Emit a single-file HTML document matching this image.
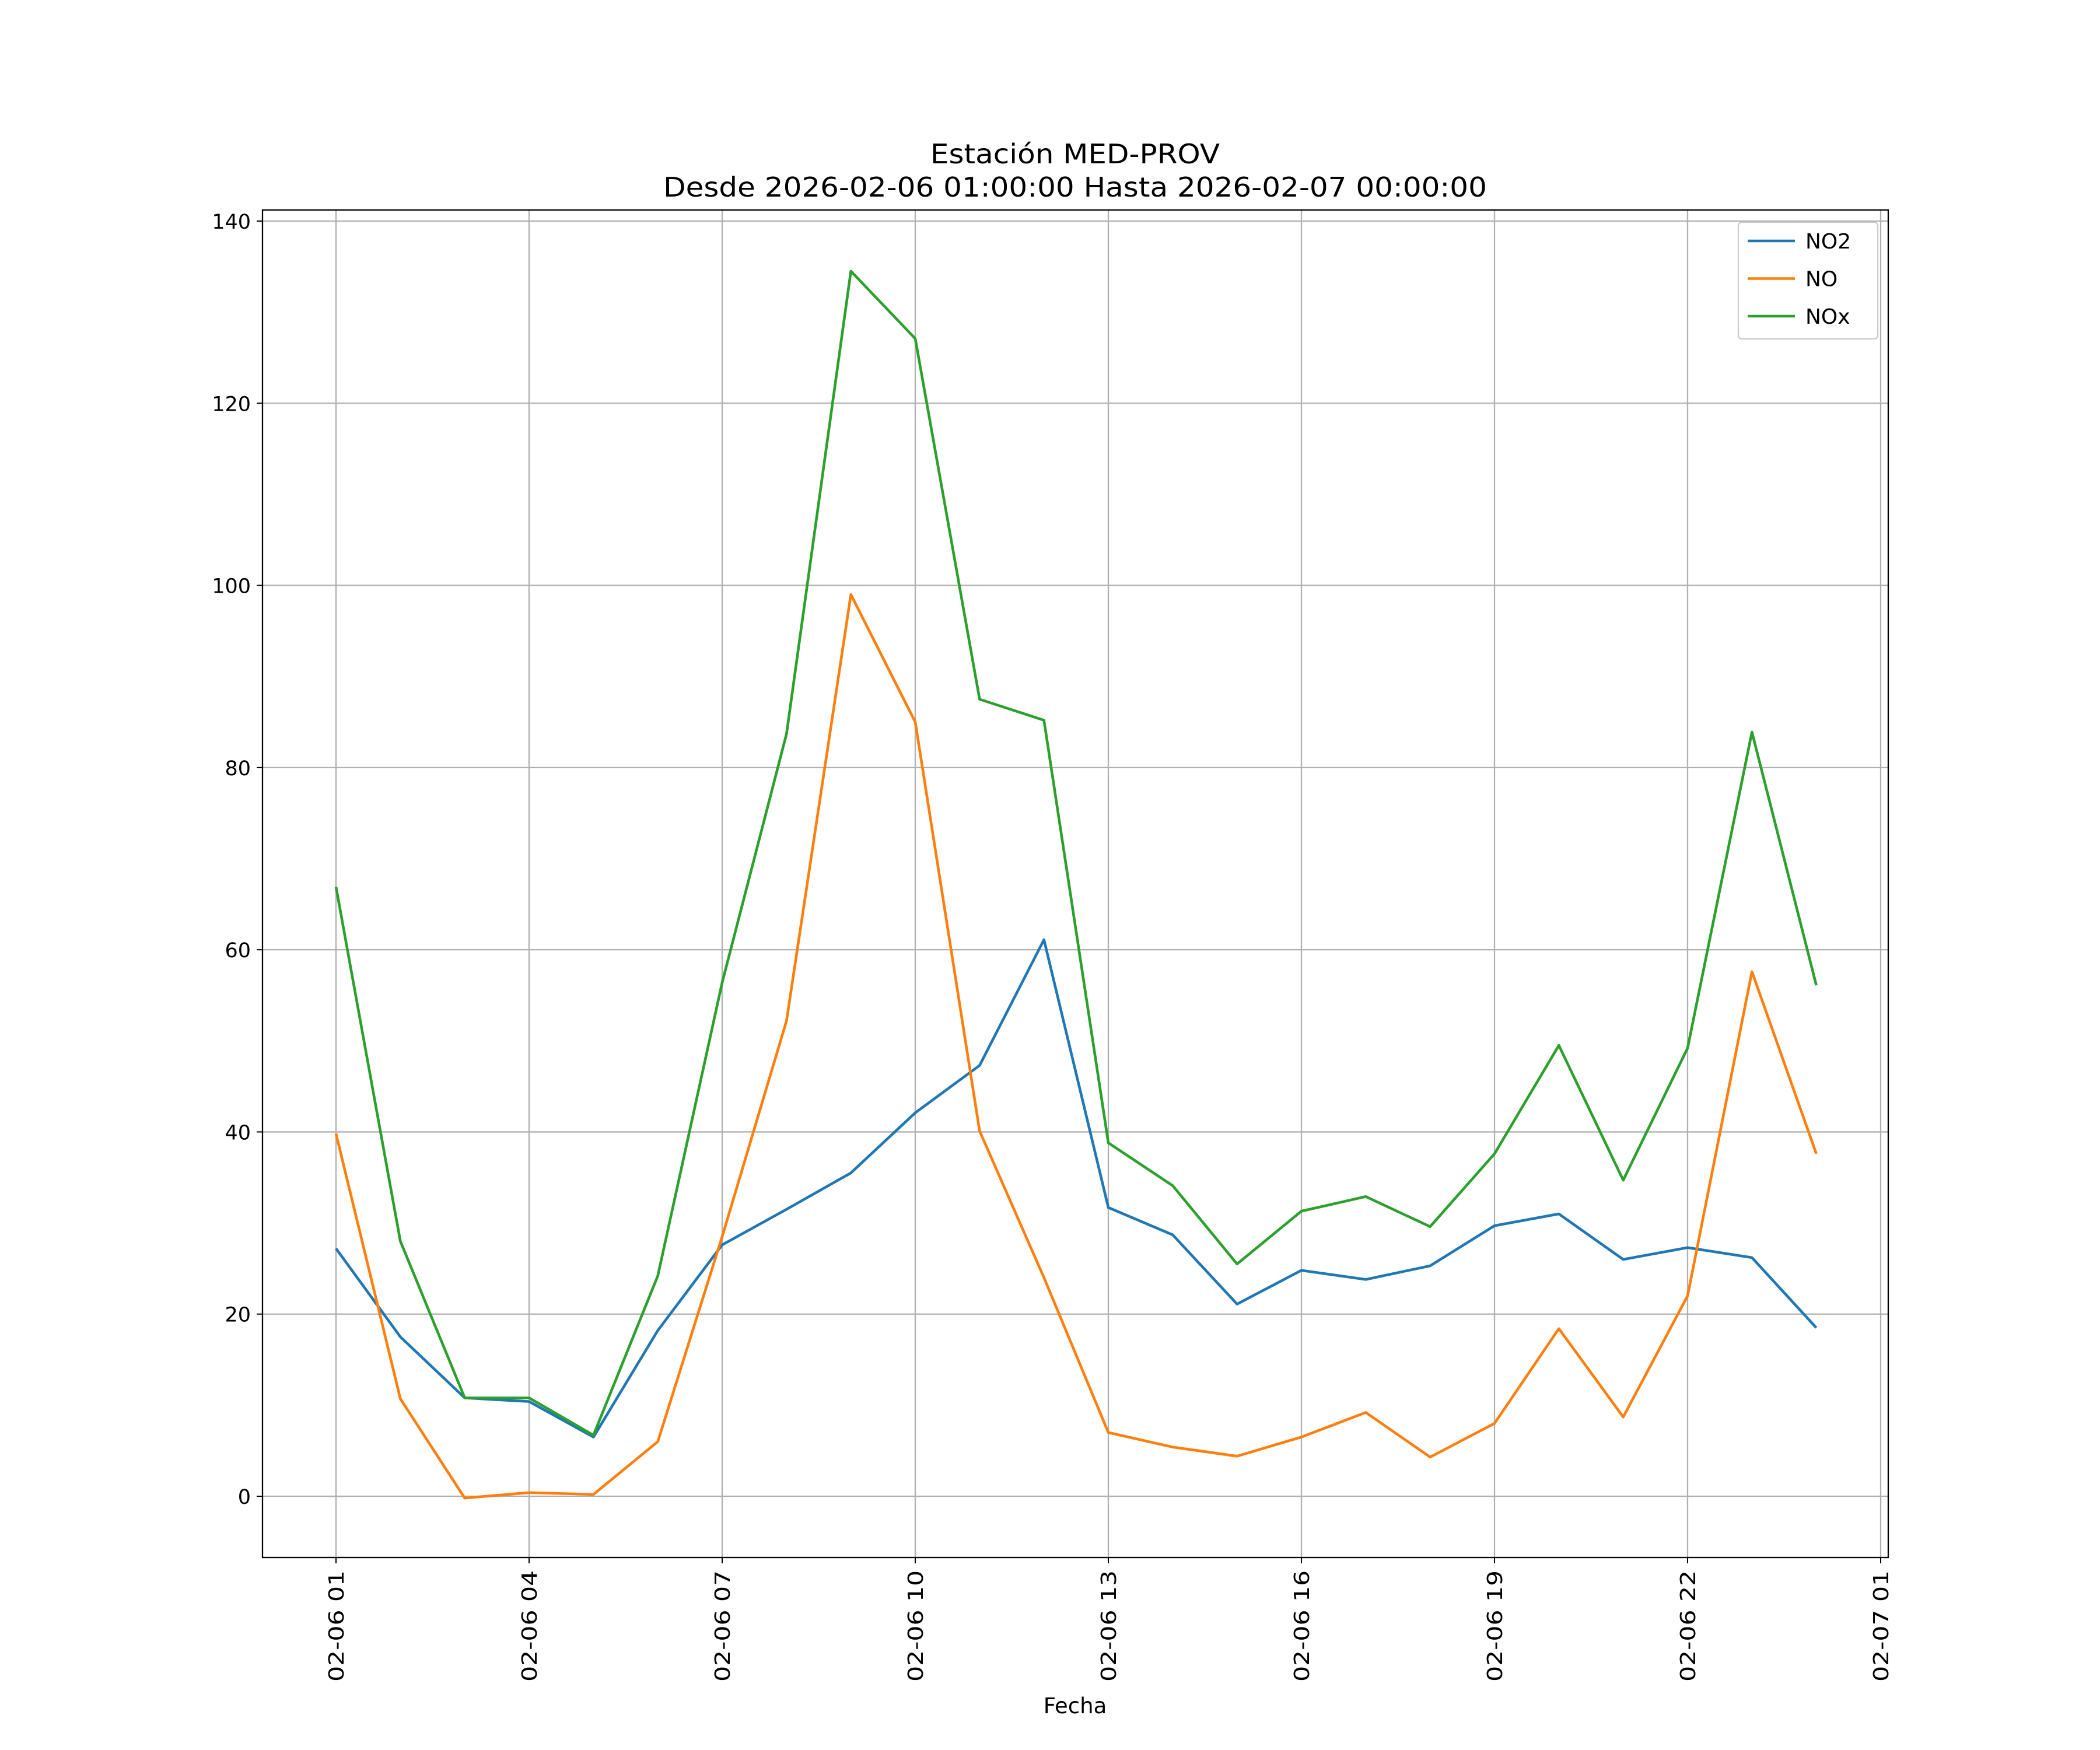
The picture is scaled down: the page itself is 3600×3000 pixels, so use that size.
<!DOCTYPE html>
<html><head><meta charset="utf-8"><style>html,body{margin:0;padding:0;background:#fff}svg{display:block;font-family:"DejaVu Sans","Liberation Sans",sans-serif}</style></head>
<body>
<svg id="chart" width="3600" height="3000" viewBox="0 0 3600 3000" xmlns="http://www.w3.org/2000/svg">
<rect width="3600" height="3000" fill="#fff"/>
<g id="grid"></g>
<g id="series"></g>
<rect x="450" y="360" width="2787" height="2310" fill="none" stroke="#000" stroke-width="2.3"/>
<g id="axes"></g>
<text x="1843" y="280" font-size="50" text-anchor="middle" transform="translate(0,280) scale(1,0.92) translate(0,-280)">Estación MED-PROV</text>
<text x="1843" y="337" font-size="50" text-anchor="middle" transform="translate(0,337) scale(1,0.92) translate(0,-337)">Desde 2026-02-06 01:00:00 Hasta 2026-02-07 00:00:00</text>
<text x="1843" y="2937" font-size="37" text-anchor="middle">Fecha</text>
<g id="legend">
<rect x="2980" y="381" width="239" height="200" fill="#fff" fill-opacity="0.8" stroke="#ccc" stroke-width="2.3" rx="6"/>
</g>
</svg>
<script>
const hours = [1,2,3,4,5,6,7,8,9,10,11,12,13,14,15,16,17,18,19,20,21,22,23,24];
const no2 = [27.2,17.5,10.8,10.4,6.5,18.2,27.6,31.5,35.5,42.1,47.3,61.1,31.7,28.7,21.1,24.8,23.8,25.3,29.7,31.0,26.0,27.3,26.2,18.5];
const no = [39.8,10.7,-0.2,0.4,0.2,6.0,28.5,52.2,99.0,85.0,40.1,24.0,7.0,5.4,4.4,6.5,9.2,4.3,8.0,18.4,8.7,22.0,57.6,37.6];
const nox = [66.9,28.0,10.8,10.8,6.7,24.2,56.4,83.7,134.5,127.1,87.5,85.2,38.8,34.1,25.5,31.3,32.9,29.6,37.6,49.5,34.7,49.2,83.9,56.1];
const yTicks = [0,20,40,60,80,100,120,140];
const xTickHours = [1,4,7,10,13,16,19,22,25];
const xTickLabels = ["02-06 01","02-06 04","02-06 07","02-06 10","02-06 13","02-06 16","02-06 19","02-06 22","02-07 01"];
const seriesNames = ["NO2","NO","NOx"];
const seriesColors = ["#1f77b4","#ff7f0e","#2ca02c"];

const NS="http://www.w3.org/2000/svg";
const X0=450,X1=3237,Y0=360,Y1=2670;
function xs(h){return 576+(h-1)*(3224-576)/24;}
function ys(v){return 2565-v*(2565-379)/140;}
function mk(tag,attrs,parent){const e=document.createElementNS(NS,tag);for(const k in attrs)e.setAttribute(k,attrs[k]);parent.appendChild(e);return e;}
const grid=document.getElementById('grid'),axes=document.getElementById('axes'),ser=document.getElementById('series'),leg=document.getElementById('legend');
yTicks.forEach(v=>{const y=ys(v);
 const g=mk('line',{x1:X0,x2:X1,y1:y,y2:y,stroke:'#b0b0b0','stroke-width':2.3},grid);
 
 
 const t=mk('line',{x1:X0-10,x2:X0,y1:y,y2:y,stroke:'#000','stroke-width':2},axes);
 
 
 const l=mk('text',{x:X0-20,y:y+13,'font-size':35,'text-anchor':'end'},axes);l.textContent=v;
 
 
});
xTickHours.forEach((h,i)=>{const x=xs(h);
 const g=mk('line',{x1:x,x2:x,y1:Y0,y2:Y1,stroke:'#b0b0b0','stroke-width':2.3},grid);
 
 
 const t=mk('line',{x1:x,x2:x,y1:Y1,y2:Y1+10,stroke:'#000','stroke-width':2},axes);
 
 
 const l=mk('text',{x:0,y:0,'font-size':36,'text-anchor':'end',transform:`translate(${x+13},${Y1+22}) rotate(-90) scale(1.18,1)`},axes);l.textContent=xTickLabels[i];
 
 
});
[no2,no,nox].forEach((d,k)=>{
 const p=mk('polyline',{points:d.map((v,i)=>xs(hours[i])+','+ys(v)).join(' '),fill:'none',stroke:seriesColors[k],'stroke-width':4.6,'stroke-linejoin':'round'},ser);
 
 
 const y=413+k*64.5;
 const ll=mk('line',{x1:2996,x2:3077,y1:y,y2:y,stroke:seriesColors[k],'stroke-width':4.6},leg);
 
 
 const lt=mk('text',{x:3095,y:y+13,'font-size':36},leg);lt.textContent=seriesNames[k];
 
 
});
</script>
</body></html>
